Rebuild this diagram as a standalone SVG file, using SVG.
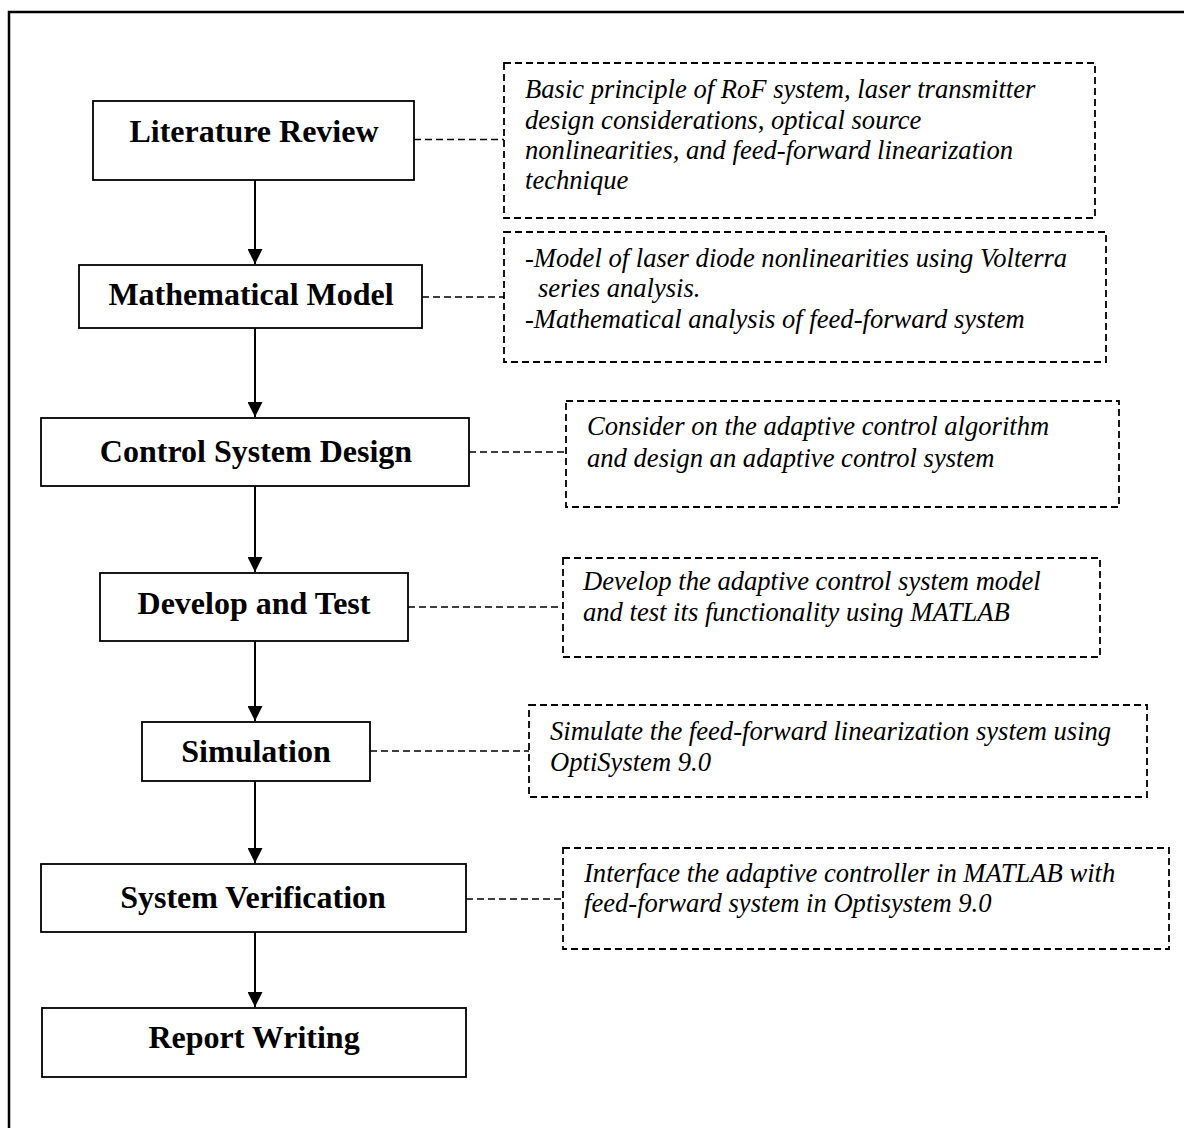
<svg xmlns="http://www.w3.org/2000/svg" width="1184" height="1128" viewBox="0 0 1184 1128">
<defs>
<style>
.frame{fill:none;stroke:#000;stroke-width:2.5}
.node rect{fill:#fff;stroke:#000;stroke-width:1.8}
.node text{font-family:"Liberation Serif","Times New Roman",serif;font-weight:bold;font-size:32px;text-anchor:middle;fill:#000}
.note rect{fill:none;stroke:#000;stroke-width:1.8;stroke-dasharray:7 4}
.note text{font-family:"Liberation Serif","Times New Roman",serif;font-style:italic;font-size:26.6px;fill:#000}
.link{stroke:#000;stroke-width:1.6;stroke-dasharray:7 4;fill:none}
.arrow{stroke:#000;stroke-width:2;fill:none;marker-end:url(#ah)}
</style>
<marker id="ah" viewBox="0 0 10 10" refX="10" refY="5" markerWidth="7.5" markerHeight="7.5" markerUnits="strokeWidth" orient="auto">
<path d="M0,0 L10,5 L0,10 Z" fill="#000"/>
</marker>
</defs>
<rect width="1184" height="1128" fill="#fff"/>
<path class="frame" d="M9,1128 V12 H1184"/>

<g id="n-literature" class="node"><rect x="93" y="101" width="321" height="79"/><text x="254" y="142">Literature Review</text></g>
<g id="n-math" class="node"><rect x="79" y="265" width="343" height="63"/><text x="251" y="305">Mathematical Model</text></g>
<g id="n-control" class="node"><rect x="41" y="418" width="428" height="68"/><text x="256" y="462">Control System Design</text></g>
<g id="n-develop" class="node"><rect x="100" y="573" width="308" height="68"/><text x="254" y="614">Develop and Test</text></g>
<g id="n-simulation" class="node"><rect x="142" y="722" width="228" height="59"/><text x="256" y="762">Simulation</text></g>
<g id="n-verification" class="node"><rect x="41" y="864" width="425" height="68"/><text x="253" y="908">System Verification</text></g>
<g id="n-report" class="node"><rect x="42" y="1008" width="424" height="69"/><text x="254" y="1048">Report Writing</text></g>

<g id="d-literature" class="note"><rect x="504" y="63" width="591" height="155"/>
<text x="525" y="98">Basic principle of RoF system, laser transmitter</text>
<text x="525" y="128.5">design considerations, optical source</text>
<text x="525" y="159">nonlinearities, and feed-forward linearization</text>
<text x="525" y="189">technique</text></g>
<g id="d-math" class="note"><rect x="504" y="232" width="602" height="130"/>
<text x="525" y="267">-Model of laser diode nonlinearities using Volterra</text>
<text x="538" y="297">series analysis.</text>
<text x="525" y="328">-Mathematical analysis of feed-forward system</text></g>
<g id="d-control" class="note"><rect x="566" y="401" width="553" height="106"/>
<text x="587" y="435">Consider on the adaptive control algorithm</text>
<text x="587" y="467">and design an adaptive control system</text></g>
<g id="d-develop" class="note"><rect x="563" y="558" width="537" height="99"/>
<text x="583" y="590">Develop the adaptive control system model</text>
<text x="583" y="621">and test its functionality using MATLAB</text></g>
<g id="d-simulation" class="note"><rect x="529" y="705" width="618" height="92"/>
<text x="550" y="740">Simulate the feed-forward linearization system using</text>
<text x="550" y="771">OptiSystem 9.0</text></g>
<g id="d-verification" class="note"><rect x="563" y="848" width="606" height="101"/>
<text x="584" y="882">Interface the adaptive controller in MATLAB with</text>
<text x="584" y="912">feed-forward system in Optisystem 9.0</text></g>

<g id="connectors">
<line class="arrow" x1="255" y1="180" x2="255" y2="264"/>
<line class="arrow" x1="255" y1="328" x2="255" y2="417"/>
<line class="arrow" x1="255" y1="486" x2="255" y2="572"/>
<line class="arrow" x1="255" y1="641" x2="255" y2="721"/>
<line class="arrow" x1="255" y1="781" x2="255" y2="863"/>
<line class="arrow" x1="255" y1="932" x2="255" y2="1007"/>
<line class="link" x1="414" y1="139.5" x2="504" y2="139.5"/>
<line class="link" x1="422" y1="297" x2="504" y2="297"/>
<line class="link" x1="469" y1="452" x2="566" y2="452"/>
<line class="link" x1="408" y1="607" x2="563" y2="607"/>
<line class="link" x1="370" y1="751" x2="529" y2="751"/>
<line class="link" x1="466" y1="899" x2="563" y2="899"/>
</g>
</svg>
